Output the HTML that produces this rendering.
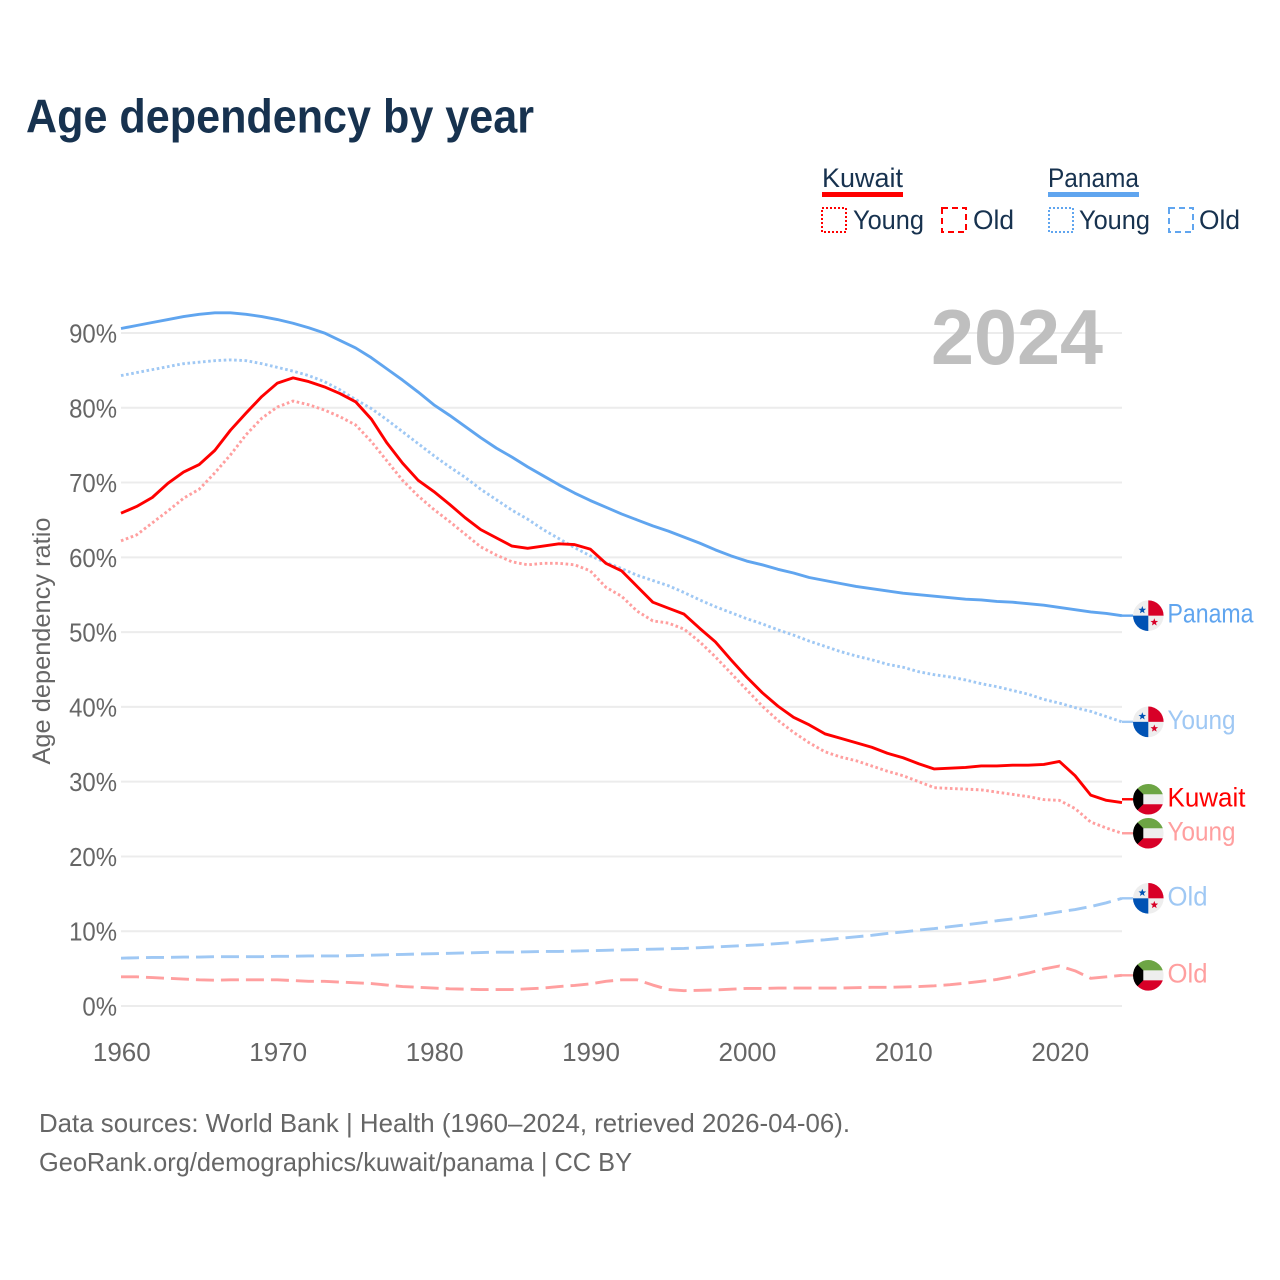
<!DOCTYPE html>
<html lang="en">
<head>
<meta charset="utf-8">
<title>Age dependency by year</title>
<style>
html,body{margin:0;padding:0;background:#fff;}
svg{display:block;font-family:"Liberation Sans",sans-serif;}
</style>
</head>
<body>
<svg id="chart" xmlns="http://www.w3.org/2000/svg" width="1280" height="1280" viewBox="0 0 1280 1280">
  <rect x="0" y="0" width="1280" height="1280" fill="#fff"/>
  <text x="26" y="132.5" font-size="47" font-weight="700" fill="#17324f" textLength="508" lengthAdjust="spacingAndGlyphs">Age dependency by year</text>

  <g font-size="26.5" fill="#17324f">
    <text x="822" y="187" textLength="81" lengthAdjust="spacingAndGlyphs">Kuwait</text>
    <rect x="822" y="192" width="81" height="5" fill="#ff0000"/>
    <rect x="822" y="208" width="24" height="24" fill="none" stroke="#ff0000" stroke-width="2" stroke-dasharray="2 2"/>
    <text x="853" y="229" textLength="71" lengthAdjust="spacingAndGlyphs">Young</text>
    <rect x="942" y="208" width="24" height="24" fill="none" stroke="#ff0000" stroke-width="2" stroke-dasharray="6 4"/>
    <text x="973" y="229" textLength="41" lengthAdjust="spacingAndGlyphs">Old</text>
    <text x="1048" y="187" textLength="91" lengthAdjust="spacingAndGlyphs">Panama</text>
    <rect x="1048" y="192" width="91" height="5" fill="#60a5ef"/>
    <rect x="1049" y="208" width="24" height="24" fill="none" stroke="#60a5ef" stroke-width="2" stroke-dasharray="2 2"/>
    <text x="1079" y="229" textLength="71" lengthAdjust="spacingAndGlyphs">Young</text>
    <rect x="1169" y="208" width="24" height="24" fill="none" stroke="#60a5ef" stroke-width="2" stroke-dasharray="6 4"/>
    <text x="1199" y="229" textLength="41" lengthAdjust="spacingAndGlyphs">Old</text>
  </g>

  <g id="grid"></g>
  <g id="yticks"></g>
  <g id="xticks"></g>
  <text transform="translate(50,641) rotate(-90)" text-anchor="middle" font-size="25" fill="#666" textLength="247" lengthAdjust="spacingAndGlyphs">Age dependency ratio</text>
  <text x="931" y="364" font-size="78" font-weight="700" fill="#bfbfbf" textLength="172" lengthAdjust="spacingAndGlyphs">2024</text>
  <g id="series"></g>
  <g id="endlabels"></g>

  <g font-size="26" fill="#666">
    <text x="39" y="1132" textLength="811" lengthAdjust="spacingAndGlyphs">Data sources: World Bank | Health (1960–2024, retrieved 2026-04-06).</text>
    <text x="39" y="1171" textLength="593" lengthAdjust="spacingAndGlyphs">GeoRank.org/demographics/kuwait/panama | CC BY</text>
  </g>
</svg>
<script>
const startYear = 1960;
const xTickYears = [1960, 1970, 1980, 1990, 2000, 2010, 2020];
const yTickValues = [0, 10, 20, 30, 40, 50, 60, 70, 80, 90];

const panamaTotal = [
  90.6,91.0,91.4,91.8,92.2,92.5,92.7,92.7,92.5,92.2,
  91.8,91.3,90.7,90.0,89.0,88.0,86.7,85.2,83.7,82.1,
  80.4,79.0,77.5,76.0,74.6,73.4,72.1,70.9,69.7,68.6,
  67.6,66.7,65.8,65.0,64.2,63.5,62.7,61.9,61.0,60.2,
  59.5,59.0,58.4,57.9,57.3,56.9,56.5,56.1,55.8,55.5,
  55.2,55.0,54.8,54.6,54.4,54.3,54.1,54.0,53.8,53.6,
  53.3,53.0,52.7,52.5,52.2
];
const panamaYoung = [
  84.3,84.7,85.1,85.5,85.9,86.1,86.3,86.4,86.3,85.9,
  85.4,84.9,84.3,83.5,82.4,81.1,79.9,78.4,76.8,75.2,
  73.6,72.1,70.7,69.1,67.7,66.3,65.1,63.7,62.5,61.3,
  60.2,59.3,58.5,57.6,56.9,56.2,55.3,54.3,53.4,52.6,
  51.8,51.1,50.3,49.6,48.8,48.1,47.4,46.8,46.3,45.7,
  45.3,44.7,44.3,44.0,43.6,43.1,42.7,42.2,41.7,41.0,
  40.5,39.9,39.4,38.7,38.0
];
const panamaOld = [
  6.4,6.45,6.5,6.5,6.55,6.55,6.6,6.6,6.6,6.6,
  6.65,6.65,6.7,6.7,6.7,6.75,6.8,6.85,6.9,6.95,
  7.0,7.05,7.1,7.15,7.2,7.2,7.25,7.3,7.3,7.35,
  7.4,7.45,7.5,7.55,7.6,7.65,7.7,7.8,7.9,8.0,
  8.1,8.2,8.35,8.5,8.7,8.85,9.05,9.25,9.45,9.7,
  9.9,10.15,10.35,10.6,10.85,11.1,11.4,11.65,11.95,12.25,
  12.6,12.9,13.3,13.8,14.4
];
const kuwaitTotal = [
  65.9,66.8,68.0,69.9,71.4,72.4,74.3,77.0,79.3,81.5,
  83.3,84.0,83.5,82.8,81.9,80.8,78.5,75.3,72.6,70.3,
  68.8,67.1,65.3,63.7,62.6,61.5,61.2,61.5,61.8,61.7,
  61.1,59.2,58.2,56.1,54.0,53.2,52.4,50.5,48.7,46.3,
  44.0,41.9,40.1,38.6,37.6,36.4,35.8,35.2,34.6,33.8,
  33.2,32.4,31.7,31.8,31.9,32.1,32.1,32.2,32.2,32.3,
  32.7,30.8,28.2,27.5,27.2
];
const kuwaitYoung = [
  62.2,63.0,64.6,66.2,67.9,69.1,71.3,73.7,76.4,78.6,
  80.1,80.9,80.4,79.7,78.8,77.7,75.5,72.9,70.3,68.2,
  66.4,64.8,63.1,61.4,60.3,59.4,59.0,59.2,59.2,59.0,
  58.2,56.0,54.8,52.8,51.5,51.2,50.4,48.7,46.7,44.5,
  42.3,40.1,38.2,36.6,35.2,34.0,33.3,32.8,32.1,31.4,
  30.8,30.0,29.2,29.1,29.0,28.9,28.6,28.3,28.0,27.6,
  27.5,26.4,24.6,23.8,23.1
];
const kuwaitOld = [
  3.9,3.9,3.8,3.7,3.6,3.5,3.45,3.5,3.5,3.5,
  3.5,3.4,3.3,3.3,3.2,3.1,3.0,2.8,2.6,2.5,
  2.4,2.3,2.25,2.2,2.2,2.2,2.3,2.4,2.6,2.75,
  2.95,3.3,3.5,3.5,2.8,2.2,2.05,2.1,2.15,2.25,
  2.35,2.35,2.4,2.4,2.4,2.4,2.4,2.45,2.5,2.5,
  2.55,2.6,2.7,2.85,3.05,3.3,3.55,3.95,4.4,4.95,
  5.35,4.7,3.7,3.9,4.1
];

const xScale = year => 121 + (year - startYear) * (1001 / 64);
const yScale = pct => 1006 - pct * 7.478;

const NS = 'http://www.w3.org/2000/svg';
function make(tag, parent, attrs) {
  const el = document.createElementNS(NS, tag);
  for (const k in attrs) el.setAttribute(k, attrs[k]);
  parent.appendChild(el);
  return el;
}

const grid = document.getElementById('grid');
const yticks = document.getElementById('yticks');
const xticks = document.getElementById('xticks');
const seriesG = document.getElementById('series');
const labelsG = document.getElementById('endlabels');

yTickValues.forEach(v => {
  const line = make('line', grid, {x1: xScale(1960), x2: xScale(2024), y1: yScale(v), y2: yScale(v), stroke: '#ececec', 'stroke-width': 2});
  
  
  const t = make('text', yticks, {x: 117, y: yScale(v) + 9.5, 'text-anchor': 'end', 'font-size': 26, fill: '#666'});
  t.textContent = v + '%';
  
  
  t.setAttribute('textLength', (t.getComputedTextLength() * 0.92).toFixed(1));
  t.setAttribute('lengthAdjust', 'spacingAndGlyphs');
});

xTickYears.forEach(y => {
  const t = make('text', xticks, {x: xScale(y) + 0.8, y: 1061, 'text-anchor': 'middle', 'font-size': 26, fill: '#666'});
  t.textContent = y;
  
  
});

const DOT = '2.6 2.6';
const DASH = '18 7';
const lines = [
  {key: 'kuwait-young', values: kuwaitYoung, color: '#ff9f9f', dash: DOT, label: 'Young', flag: 'kuwait'},
  {key: 'kuwait-old', values: kuwaitOld, color: '#ff9f9f', dash: DASH, label: 'Old', flag: 'kuwait'},
  {key: 'panama-young', values: panamaYoung, color: '#9fc8f4', dash: DOT, label: 'Young', flag: 'panama'},
  {key: 'panama-old', values: panamaOld, color: '#9fc8f4', dash: DASH, label: 'Old', flag: 'panama'},
  {key: 'panama-total', values: panamaTotal, color: '#60a5ef', dash: null, label: 'Panama', flag: 'panama'},
  {key: 'kuwait-total', values: kuwaitTotal, color: '#ff0000', dash: null, label: 'Kuwait', flag: 'kuwait'}
];

lines.forEach(s => {
  const d = s.values.map((v, i) => (i ? 'L' : 'M') + xScale(startYear + i).toFixed(2) + ' ' + yScale(v).toFixed(2)).join(' ');
  const p = make('path', seriesG, {d: d, fill: 'none', stroke: s.color, 'stroke-width': 2.9, 'stroke-linejoin': 'round'});
  if (s.dash) p.setAttribute('stroke-dasharray', s.dash);
  
  
});

/* End labels are placed at the final value, nudged apart so flags never overlap. */
const ends = lines.map(s => ({s: s, last: yScale(s.values[s.values.length - 1])}));
ends.forEach(e => { e.labelY = e.last; });
ends.sort((a, b) => b.last - a.last);
const minGap = 34;
for (let i = 1; i < ends.length; i++) {
  if (ends[i - 1].labelY - ends[i].labelY < minGap) ends[i].labelY = ends[i - 1].labelY - minGap;
}

function starPoints(cx, cy, r) {
  const pts = [];
  for (let i = 0; i < 10; i++) {
    const rad = i % 2 ? r * 0.42 : r;
    const a = -Math.PI / 2 + i * Math.PI / 5;
    pts.push((cx + rad * Math.cos(a)).toFixed(2) + ',' + (cy + rad * Math.sin(a)).toFixed(2));
  }
  return pts.join(' ');
}

const defs = make('defs', labelsG, {});
const clip = make('clipPath', defs, {id: 'flag-clip'});
make('circle', clip, {cx: 0, cy: 0, r: 15.3});

function drawFlag(parent, kind, y) {
  const g = make('g', parent, {transform: 'translate(1148.3,' + y.toFixed(2) + ')', 'clip-path': 'url(#flag-clip)'});
  
  
  if (kind === 'panama') {
    make('rect', g, {x: -16, y: -16, width: 32, height: 32, fill: '#eeeeee'});
    make('rect', g, {x: 0, y: -16, width: 16, height: 16, fill: '#d80027'});
    make('rect', g, {x: -16, y: 0, width: 16, height: 16, fill: '#0052b4'});
    make('polygon', g, {points: starPoints(-6, -5.6, 4), fill: '#0052b4'});
    make('polygon', g, {points: starPoints(6, 6.6, 4), fill: '#d80027'});
  } else {
    make('rect', g, {x: -16, y: -16, width: 32, height: 32, fill: '#eeeeee'});
    make('rect', g, {x: -16, y: -16, width: 32, height: 11, fill: '#6da544'});
    make('rect', g, {x: -16, y: 5, width: 32, height: 11, fill: '#d80027'});
    make('polygon', g, {points: '-16,-16 -11,-11 -5,-5 -5,5 -11,11 -16,16', fill: '#000'});
  }
}

ends.forEach(e => {
  const stub = make('line', labelsG, {x1: xScale(2024), y1: e.labelY, x2: 1133, y2: e.labelY, stroke: e.s.color, 'stroke-width': 2.4});
  
  
  drawFlag(labelsG, e.s.flag, e.labelY);
  const t = make('text', labelsG, {x: 1167.5, y: e.labelY + 7, 'font-size': 26.5, fill: e.s.color});
  t.textContent = e.s.label;
  
  
  t.setAttribute('textLength', {Panama: 86, Kuwait: 78, Young: 68, Old: 40}[e.s.label]);
  t.setAttribute('lengthAdjust', 'spacingAndGlyphs');
});
</script>
</body>
</html>
